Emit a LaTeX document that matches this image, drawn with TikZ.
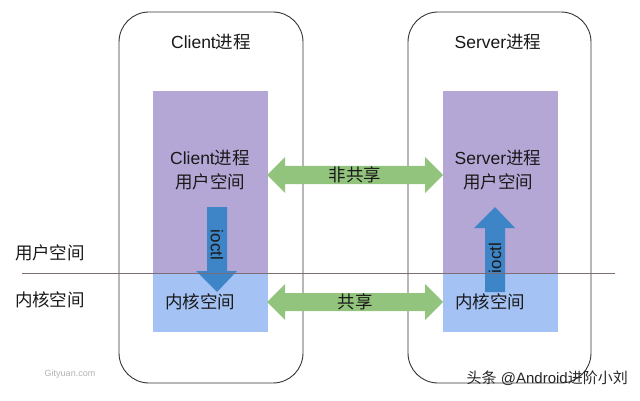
\documentclass[tikz,border=0pt]{standalone}
\usepackage{fontspec}
\setmainfont{Liberation Sans}
\newfontfamily\cjk{Noto Sans CJK SC}
\definecolor{userpurple}{HTML}{B4A7D6}
\definecolor{kernblue}{HTML}{A4C2F4}
\definecolor{arrblue}{HTML}{3D85C6}
\definecolor{arrgreen}{HTML}{93C47D}
\definecolor{divline}{HTML}{7E6C76}
\tikzset{
  procbox/.style={draw=black!80, line width=0.9pt, rounded corners=30pt},
  userbox/.style={fill=userpurple, draw=none},
  kernbox/.style={fill=kernblue, draw=none},
  lbl/.style={font=\fontsize{17.5}{24}\selectfont, text=black!90, inner sep=0pt},
  small/.style={font=\fontsize{17}{20}\selectfont, text=black!90, inner sep=0pt},
}
\begin{document}
\begin{tikzpicture}[x=1pt,y=-1pt]
\useasboundingbox (0,0) rectangle (640,401);
% process boxes
\draw[procbox] (119,12) rectangle (303,383);
\draw[procbox] (408,12) rectangle (591,383);
% user / kernel areas
\fill[userbox] (153,91) rectangle (268,274);
\fill[kernbox] (153,274) rectangle (268,332);
\fill[userbox] (443,91) rectangle (558,274);
\fill[kernbox] (443,274) rectangle (558,332);
% titles
\node[lbl] (ctitle) at (211,42) {Client{\cjk 进程}};
\node[lbl] (stitle) at (498,42) {Server{\cjk 进程}};
\node[lbl, align=center] (cuser) at (210,170) {Client{\cjk 进程}\\{\cjk 用户空间}};
\node[lbl, align=center] (suser) at (498,170) {Server{\cjk 进程}\\{\cjk 用户空间}};
\node[lbl] (ckern) at (200,302) {\cjk 内核空间};
\node[lbl] (skern) at (490,302) {\cjk 内核空间};
\node[lbl] (luser) at (50,253) {\cjk 用户空间};
\node[lbl] (lkern) at (50,300) {\cjk 内核空间};
% green double arrows
\fill[arrgreen] (267,175) -- (285,157) -- (285,166) -- (425,166) -- (425,157) -- (443,175)
  -- (425,193) -- (425,184) -- (285,184) -- (285,193) -- cycle;
\fill[arrgreen] (267,302) -- (285,284) -- (285,293) -- (425,293) -- (425,284) -- (443,302)
  -- (425,320) -- (425,311) -- (285,311) -- (285,320) -- cycle;
\node[lbl] (nonshare) at (355,175) {\cjk 非共享};
\node[lbl] (share) at (355,302) {\cjk 共享};
% ioctl arrows
\fill[arrblue] (207,207) -- (227,207) -- (227,271) -- (237,271) -- (217,292) -- (196,271) -- (207,271) -- cycle;
\node[small, rotate=-90] (cioctl) at (217,245) {ioctl};
\fill[arrblue] (485,292) -- (505,292) -- (505,228) -- (515,228) -- (495,207) -- (474,228) -- (485,228) -- cycle;
\node[small, rotate=90] (sioctl) at (495,258) {ioctl};
% divider line (on top)
\draw[divline, line width=0.9pt] (22,273) -- (615,273);
% watermarks
\node[font=\fontsize{9}{10}\selectfont, text=black!30, inner sep=0pt] (wm1) at (70,374) {Gityuan.com};
\node[font=\fontsize{15}{17}\selectfont, text=black!85, inner sep=0pt, anchor=east] (wm2) at (628,378) {{\cjk 头条} @Android{\cjk 进阶小刘}};
\end{tikzpicture}
\end{document}
